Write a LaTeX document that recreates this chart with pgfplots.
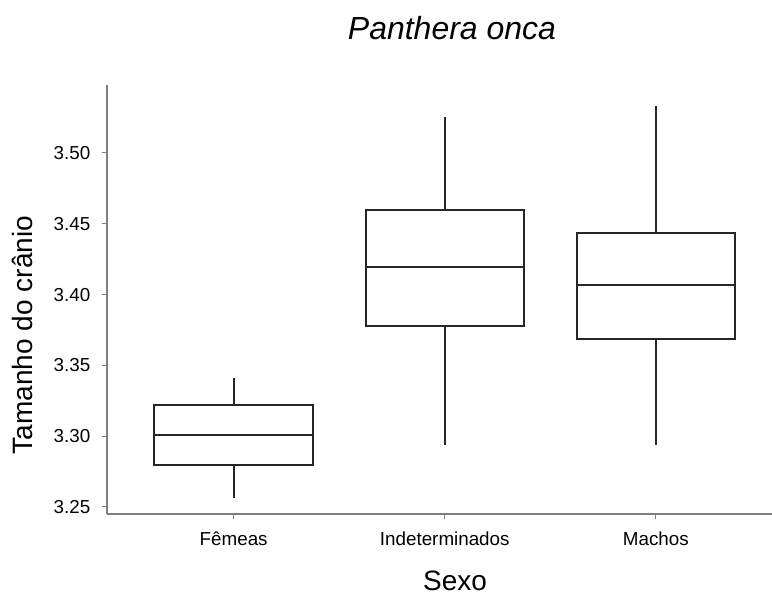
\documentclass[border=0pt]{standalone}
\usepackage{fontspec}
\setmainfont{Liberation Sans}
\usepackage{pgfplots}
\pgfplotsset{compat=1.18}
\usepgfplotslibrary{statistics}
\definecolor{boxc}{HTML}{262626}
\definecolor{axc}{HTML}{7F7F7F}
\begin{document}
\begin{tikzpicture}
\useasboundingbox (-80.25pt,-60.75pt) rectangle (498.75pt,385.5pt);
\begin{axis}[
  scale only axis,
  width=498.75pt, height=321.75pt,
  xmin=0.4, xmax=3.55,
  ymin=3.245, ymax=3.548,
  axis x line*=bottom, axis y line*=left,
  axis line style={axc, line width=1pt},
  tick style={axc, line width=0.8pt},
  tick align=outside,
  major tick length=4pt,
  xtick={1,2,3},
  xticklabels={Fêmeas, Indeterminados, Machos},
  ytick={3.25,3.30,3.35,3.40,3.45,3.50},
  yticklabel style={/pgf/number format/fixed, /pgf/number format/fixed zerofill, /pgf/number format/precision=2, xshift=-5pt},
  /pgf/number format/assume math mode=true,
  ticklabel style={font=\fontsize{14.1pt}{16pt}\selectfont, text=black},
  xticklabel style={text height=11pt, text depth=3pt, yshift=-5pt},
  clip=false,
  xtick style={draw=axc, line width=0.8pt},
]
\addplot[boxplot prepared={draw direction=y, draw position=1, lower whisker=3.2562, lower quartile=3.2795, median=3.3007, upper quartile=3.3219, upper whisker=3.3410, box extend=0.75, whisker extend=0}, draw=boxc, line width=1.5pt, fill=white] coordinates {};
\addplot[boxplot prepared={draw direction=y, draw position=2, lower whisker=3.2936, lower quartile=3.3781, median=3.4198, upper quartile=3.4599, upper whisker=3.5254, box extend=0.75, whisker extend=0}, draw=boxc, line width=1.5pt, fill=white] coordinates {};
\addplot[boxplot prepared={draw direction=y, draw position=3, lower whisker=3.2936, lower quartile=3.3689, median=3.4064, upper quartile=3.4436, upper whisker=3.5332, box extend=0.75, whisker extend=0}, draw=boxc, line width=1.5pt, fill=white] coordinates {};
\end{axis}
\node[anchor=base, font=\fontsize{24pt}{28pt}\selectfont\itshape] at (258.75pt,355.5pt) {Panthera onca};
\node[anchor=base, font=\fontsize{21pt}{25pt}\selectfont] at (261pt,-57.75pt) {Sexo};
\node[anchor=base, rotate=90, font=\fontsize{21pt}{25pt}\selectfont] at (-55.5pt,134.25pt) {Tamanho do crânio};
\end{tikzpicture}
\end{document}
